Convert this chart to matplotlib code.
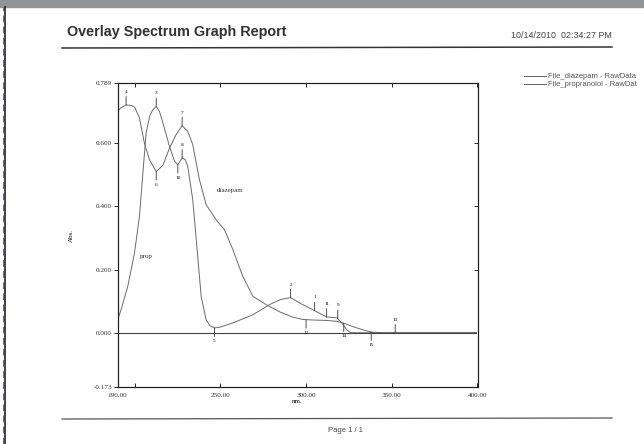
import matplotlib
matplotlib.use("Agg")
import matplotlib.pyplot as plt

# spectrum data (nm, Abs.)
diaz_nm = [190, 192, 195, 198, 200, 202.8, 205.7, 208.7, 212.6, 216.5, 220.3, 224.2,
           227.7, 231, 233.9, 237.8, 241.7, 247.6, 252.4, 257.3, 263.1, 269, 277,
           285, 292, 298, 305, 312, 318, 322, 328, 334, 338, 345, 360, 400]
diaz_abs = [0.700, 0.712, 0.721, 0.719, 0.714, 0.680, 0.600, 0.547, 0.510, 0.530, 0.584, 0.627,
            0.655, 0.637, 0.595, 0.484, 0.405, 0.357, 0.326, 0.263, 0.178, 0.115, 0.088,
            0.065, 0.050, 0.042, 0.040, 0.039, 0.036, 0.030, 0.018, 0.008, 0.002, 0.0, 0.0, 0.0]

prop_nm = [190, 192.1, 196, 199.9, 202.8, 204.8, 206.7, 208.7, 210.5, 212.6, 214.5, 216.5,
           220.3, 223.3, 225.2, 227.7, 229.5, 231, 233.9, 236.8, 238.8, 241.7, 244, 246.6,
           250, 257.3, 269, 278.7, 285, 291, 297, 303.8, 312, 318, 321, 323.6, 326, 340, 400]
prop_abs = [0.040, 0.073, 0.147, 0.252, 0.368, 0.505, 0.632, 0.684, 0.705, 0.716, 0.700, 0.664,
            0.590, 0.542, 0.532, 0.553, 0.548, 0.526, 0.421, 0.241, 0.115, 0.041, 0.022, 0.015,
            0.018, 0.031, 0.057, 0.089, 0.105, 0.111, 0.092, 0.073, 0.050, 0.047, 0.030, 0.010,
            0.0, 0.0, 0.0]

# peak / valley picks
peak_nm = [195, 212.6, 227.7, 227.7, 291, 305, 312, 318.5, 352]
peak_abs = [0.721, 0.716, 0.655, 0.553, 0.111, 0.070, 0.050, 0.045, 0.0]
peak_lbl = ['4', '3', '7', '8', '2', '1', '11', '9', '13']
valley_nm = [212.6, 225.2, 246.6, 300, 322, 338]
valley_abs = [0.510, 0.532, 0.015, 0.041, 0.030, 0.002]
valley_lbl = ['6', '10', '5', '12', '14', '15']

xticks = [190, 200, 250, 300, 350, 400]
xtick_lbl = ['190.00', '', '250.00', '300.00', '350.00', '400.00']
yticks = [-0.173, 0.0, 0.2, 0.4, 0.6, 0.789]
ytick_lbl = ['-0.173', '0.000', '0.200', '0.400', '0.600', '0.789']

leg_names = ['File_diazepam - RawData', 'File_propranolol - RawDat']

W, H = 644, 444
fig = plt.figure(figsize=(6.44, 4.44), dpi=100)
fig.patch.set_facecolor('white')

def fx(px):
    return px / W

def fy(py):
    return 1 - py / H

# scanner frame bits
fig.patches.append(plt.Rectangle((0, fy(7)), 1, 7 / H, transform=fig.transFigure,
                                 color='#929597', zorder=0))
fig.lines.append(plt.Line2D([fx(4.8), fx(4.8)], [0, fy(7)], transform=fig.transFigure,
                            color='#222222', lw=1.2))
fig.lines.append(plt.Line2D([fx(3.4), fx(3.4)], [0, fy(7)], transform=fig.transFigure,
                            color='#5b5bff', lw=0.8, ls=(0, (6, 4))))

# header / footer
fig.text(fx(67), fy(32), 'Overlay Spectrum Graph Report', fontsize=10.4, fontweight='bold',
         family='Liberation Sans', color='#333333', va='center')
fig.text(fx(612), fy(35), '10/14/2010  02:34:27 PM', fontsize=6.4, family='Liberation Sans',
         color='#444444', va='center', ha='right')
fig.lines.append(plt.Line2D([fx(62), fx(612)], [fy(48), fy(47)], transform=fig.transFigure,
                            color='#333333', lw=1.1))
fig.lines.append(plt.Line2D([fx(62), fx(612)], [fy(419), fy(418)], transform=fig.transFigure,
                            color='#555555', lw=0.9))
fig.text(fx(345), fy(430), 'Page 1 / 1', fontsize=5.5, family='Liberation Sans',
         color='#444444', va='center', ha='center')

# legend
for i, name in enumerate(leg_names):
    yy = 76 + i * 8
    fig.lines.append(plt.Line2D([fx(524), fx(546)], [fy(yy), fy(yy)], transform=fig.transFigure,
                                color='#666666', lw=0.7))
    fig.text(fx(548), fy(yy), name, fontsize=5.5, family='Liberation Sans',
             color='#555555', va='center')

# plot area
ax = fig.add_axes([fx(117.5), fy(387.4), (477.5 - 117.5) / W, (387.4 - 83.4) / H])
ax.set_xlim(190, 400)
ax.set_ylim(-0.173, 0.789)
ax.plot(diaz_nm, diaz_abs, color='#6a6a6a', lw=0.7)
ax.plot(prop_nm, prop_abs, color='#6a6a6a', lw=0.7)
ax.axhline(0, color='#444444', lw=0.8)

for s in ax.spines.values():
    s.set_linewidth(0.9)
    s.set_color('#222222')
ax.spines['right'].set_visible(False)

serif = 'Liberation Serif'
ax.set_xticks(xticks)
ax.set_xticklabels(xtick_lbl, fontsize=5.2, family=serif, color='#333333')
ax.tick_params(axis='x', direction='in', top=True, length=3, width=0.6, pad=4)
ax.set_yticks(yticks)
ax.set_yticklabels(ytick_lbl, fontsize=5.2, family=serif, color='#333333')
ax.tick_params(axis='y', direction='out', length=3, width=0.6, pad=1)
sec = ax.secondary_yaxis('right')
sec.set_yticks([0.2, 0.4, 0.6])
sec.tick_params(direction='in', length=3, width=0.6, labelright=False)
sec.spines['right'].set_linewidth(0.9)
sec.spines['right'].set_color('#222222')

ax.set_xlabel('nm.', fontsize=5, family=serif, labelpad=1)
ax.set_ylabel('Abs.', fontsize=5, family=serif, labelpad=14)

for x, y, t in zip(peak_nm, peak_abs, peak_lbl):
    ax.annotate(t, xy=(x, y), xytext=(0, 8), textcoords='offset points', ha='center',
                va='bottom', fontsize=3.8, family=serif,
                arrowprops=dict(arrowstyle='-', lw=0.6, color='#333333', shrinkA=0, shrinkB=0))
for x, y, t in zip(valley_nm, valley_abs, valley_lbl):
    ax.annotate(t, xy=(x, y), xytext=(0, -8), textcoords='offset points', ha='center',
                va='top', fontsize=3.8, family=serif,
                arrowprops=dict(arrowstyle='-', lw=0.6, color='#333333', shrinkA=0, shrinkB=0))

ax.text(248, 0.445, 'diazepam', fontsize=5, family=serif, color='#333333')
ax.text(203, 0.235, 'prop', fontsize=5, family=serif, color='#333333')

fig.savefig('out.png', dpi=100)
